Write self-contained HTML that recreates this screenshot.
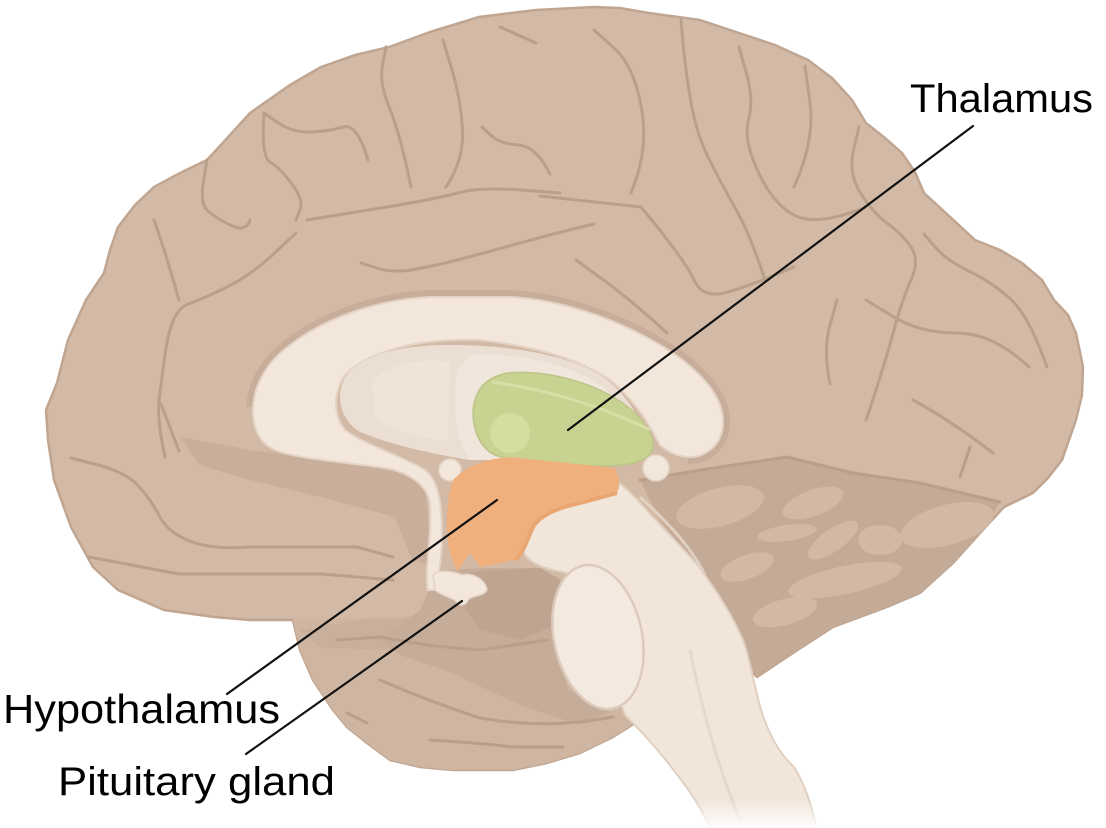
<!DOCTYPE html>
<html><head><meta charset="utf-8"><style>
html,body{margin:0;padding:0;background:#fff;}
svg{display:block;}
</style></head><body>
<svg width="1106" height="828" viewBox="0 0 1106 828" xmlns="http://www.w3.org/2000/svg">
<defs>
<linearGradient id="fade" x1="0" y1="0" x2="0" y2="1">
<stop offset="0" stop-color="#fff" stop-opacity="0"/>
<stop offset="1" stop-color="#fff" stop-opacity="0.95"/>
</linearGradient>
</defs>
<rect width="1106" height="828" fill="#fff"/>

<!-- brain silhouette -->
<path d="M594,7 L620,8 L649,13 L700,20 L739,33 L775,45 L808,60 L832,78 L852,100 L866,123 L885,138 L902,153 L915,172 L924,193 L948,215 L975,240 L1000,250 L1022,263 L1042,280 L1054,300 L1068,315 L1076,333 L1083,367 L1082,395 L1076,420 L1062,460 L1048,478 L1033,493 L1004,507 L980,533 L953,563 L920,593 L887,607 L833,627 L793,653 L757,677 L720,640 L660,720 L640,720 L613,737 L580,753 L547,763 L513,770 L453,770 L420,767 L390,760 L367,743 L347,727 L333,710 L313,680 L300,650 L293,620 L250,620 L214,617 L164,610 L118,590 L93,567 L71,527 L54,480 L48,440 L46,410 L57,383 L68,340 L86,300 L104,273 L110,250 L118,227 L135,205 L154,187 L180,173 L207,160 L230,135 L250,113 L290,85 L321,67 L355,55 L389,47 L430,32 L479,17 L536,10 Z" fill="#d3baa6" stroke="#c0a591" stroke-width="2.5" stroke-linejoin="round"/>

<!-- temporal lobe -->
<path d="M293,620 L360,618 L440,615 L520,625 L600,650 L650,690 L660,720 L640,720 L613,737 L580,753 L547,763 L513,770 L453,770 L420,767 L390,760 L367,743 L347,727 L333,710 L313,680 L300,650 Z" fill="#cfb6a2"/>
<path d="M300,630 L360,620 L440,617 L520,625 L560,640 L555,660 L480,655 L400,650 L320,648 Z" fill="#c9b09c"/>

<!-- cerebellum dark background -->
<path d="M640,480 L720,467 L787,457 L853,473 L920,483 L1000,502 L980,533 L953,563 L920,593 L887,607 L833,627 L793,653 L757,677 L720,610 L690,560 L660,520 Z" fill="#c4ab97"/>
<g fill="#d2b9a5">
<ellipse cx="720" cy="507" rx="45" ry="19" transform="rotate(-15 720 507)"/>
<ellipse cx="813" cy="503" rx="32" ry="13" transform="rotate(-20 813 503)"/>
<ellipse cx="787" cy="533" rx="30" ry="8" transform="rotate(-8 787 533)"/>
<ellipse cx="833" cy="540" rx="30" ry="11" transform="rotate(-35 833 540)"/>
<ellipse cx="880" cy="540" rx="22" ry="15"/>
<ellipse cx="947" cy="525" rx="48" ry="20" transform="rotate(-15 947 525)"/>
<ellipse cx="747" cy="567" rx="28" ry="12" transform="rotate(-20 747 567)"/>
<ellipse cx="845" cy="580" rx="58" ry="14" transform="rotate(-12 845 580)"/>
<ellipse cx="785" cy="612" rx="33" ry="13" transform="rotate(-15 785 612)"/>
</g>

<!-- darker band under rostrum -->
<path d="M180,437 L250,450 L330,460 L390,468 L425,483 L432,565 L412,560 L395,517 L321,497 L250,480 L200,465 Z" fill="#c9af9b"/>

<!-- shadow under hypothalamus / left of pons -->
<path d="M438,570 L480,568 L540,568 L562,580 L556,630 L568,690 L610,712 L580,725 L520,705 L450,672 L400,655 L380,640 L420,610 Z" fill="#c6ad99"/>
<path d="M470,572 L540,568 L560,580 L555,625 L520,640 L480,630 L462,605 Z" fill="#bfa591"/>

<!-- sulci -->
<g fill="none" stroke="#b9a08b" stroke-width="3" stroke-linecap="round" stroke-linejoin="round">
<path d="M264,113 L278.5,123 Q293,133 311.5,132 Q330,131 343.5,127 Q357,123 368,160"/>
<path d="M207,160 L203.5,181.5 Q200,203 207,210 Q214,217 230,225 Q246,233 250,220"/>
<path d="M296,220 L300,210 Q304,200 291.5,183.5 Q279,167 270,162 Q261,157 264,113"/>
<path d="M307,220 L350,213 L393,206 Q440,198 459.5,192.5 Q479,187 520,190 L560,193"/>
<path d="M296,233 L273,254.5 Q250,276 225,288 Q200,300 189.5,303.5 Q179,307 173.5,320 Q168,333 164.5,358 Q161,383 159,401.5 Q157,420 165,457"/>
<path d="M154,220 Q168,260 179,300"/>
<path d="M386,47 L382.5,65 Q379,83 389.5,108 Q400,133 411,187"/>
<path d="M443,40 L452,70 Q461,100 462.5,130 Q464,160 446,187"/>
<path d="M482,127 L491,135.5 Q500,144 518,145 Q536,146 550,174"/>
<path d="M500,27 L536,43"/>
<path d="M361,263 L377,268 Q393,273 411,270 Q429,267 457.5,260 L557,233 L594,224"/>
<path d="M540,196 L641,207 Q685,260 694,280 Q703,300 730,291.5 Q757,283 794,267"/>
<path d="M594,30 L614,48 Q634,66 641.5,108 Q649,150 631,193"/>
<path d="M681,20 L683,43 Q685,66 690.5,99.5 Q696,133 708.5,158 Q721,183 735.5,208.5 Q750,234 765,280"/>
<path d="M739,47 L746.5,73.5 Q754,100 748.5,120 Q743,140 759,173.5 Q775,207 797,216.5 Q819,226 866,207"/>
<path d="M805,66 L810,103 Q815,140 794,187"/>
<path d="M859,127 L853.5,150 Q848,173 860.5,193 Q873,213 887.5,223.5 Q902,234 911,247 Q920,260 911,280 Q902,300 893,333.5 Q884,367 866,420"/>
<path d="M924,234 L935,247 Q946,260 969.5,271.5 Q993,283 1011,299.5 Q1029,316 1047,367"/>
<path d="M866,300 L893,316.5 Q920,333 956.5,333 Q993,333 1029,367"/>
<path d="M576,260 L603.5,280 Q631,300 667,333"/>
<path d="M837,300 L830,325 Q823,350 830,384"/>
<path d="M913,400 Q950,420 993,453"/>
<path d="M970,447 L960,477"/>
<path d="M71,458 L98,465 Q125,472 137.5,485 Q150,498 159,515.5 Q168,533 191,541.5 Q214,550 250,547 L357,547 L393,557"/>
<path d="M161,404 L179,451"/>
<path d="M89,557 L179,574 L321,574 L393,580"/>
<path d="M337,640 L380,637 Q430,647 480,650 L547,640"/>
<path d="M380,680 Q430,702 480,718 Q547,730 613,717"/>
<path d="M430,740 Q470,742 513,747 L563,747"/>
<path d="M347,713 L367,723"/>
<path d="M640,480 L720,467 L787,457 L853,473 L920,483 L1000,502"/>
</g>

<!-- cingulate shadow around corpus callosum -->
<path d="M253,407 C255,380 270,360 290,345 C320,322 370,300 430,297 L510,297 C570,300 630,325 673,353 C700,372 722,395 723,420 C724,445 705,458 688,457" fill="none" stroke="#c8ae9a" stroke-width="14"/>

<!-- corpus callosum + fornix -->
<path d="M253,407 C255,380 270,360 290,345 C320,322 370,300 430,297 L510,297 C570,300 630,325 673,353 C700,372 722,395 723,420 C724,445 705,458 688,457 C675,456 665,450 660,445 C650,425 635,400 610,380 C580,360 540,347 480,340 C420,338 370,350 345,375 C333,392 333,415 345,430 C365,445 400,455 425,470 C438,480 442,500 442,540 C442,560 436,575 440,590 L428,590 C424,570 432,540 430,505 C428,485 410,474 390,469 C350,462 300,460 275,450 C258,443 252,425 253,407 Z" fill="#f3e7dc" stroke="#e3d4c6" stroke-width="2"/>

<!-- septum region -->
<path d="M345,378 C360,355 400,345 450,345 C520,345 580,358 610,382 C630,400 640,420 650,440 L600,460 L470,460 C440,455 400,448 360,432 C340,420 335,395 345,378 Z" fill="#ebdfd3"/>
<path d="M470,355 C520,352 570,365 600,385 C620,400 630,420 640,440 L560,460 L470,460 C455,440 452,400 458,370 Z" fill="#f1e6db"/>
<path d="M372,380 C390,362 430,358 450,362 L448,440 C420,440 390,430 375,415 Z" fill="#efe5da" opacity="0.7"/>

<!-- thalamus -->
<path d="M473,413 C474,390 485,378 507,373 C540,370 573,378 600,390 C625,402 645,418 653,440 C655,458 640,465 610,466 C570,467 520,463 495,455 C480,448 473,430 473,413 Z" fill="#c8d291" stroke="#bcc488" stroke-width="1.5"/>
<circle cx="510" cy="433" r="20" fill="#d5de9f"/>
<path d="M492,382 C540,388 600,405 650,430" fill="none" stroke="#d7dfa6" stroke-width="3"/>

<!-- small cream knobs -->
<circle cx="450" cy="470" r="11" fill="#f3e7dc" stroke="#e3d4c6" stroke-width="1.5"/>
<circle cx="656" cy="468" r="13" fill="#f3e7dc" stroke="#e3d4c6" stroke-width="1.5"/>

<!-- brainstem -->
<path d="M612,478 C625,486 638,500 649,513 C665,530 685,550 699,567 C712,585 730,610 743,640 C750,660 752,675 756,690 C762,720 775,750 794,767 C805,785 812,805 818,835 L725,860 C712,830 700,805 685,785 C670,765 655,745 625,715 L575,575 C555,570 535,568 525,555 C522,545 525,535 533,527 C545,512 580,500 612,478 Z" fill="#f2e6db" stroke="#e0d0c2" stroke-width="2"/>
<path d="M640,497 C665,520 690,545 705,575" fill="none" stroke="#e0d0c2" stroke-width="3"/>
<path d="M690,650 C700,700 715,760 740,820" fill="none" stroke="#e6d8cb" stroke-width="3"/>
<!-- pons -->
<ellipse cx="598" cy="637" rx="44" ry="73" transform="rotate(-12 598 637)" fill="#f4e9df" stroke="#dccbbd" stroke-width="2.5"/>

<!-- hypothalamus -->
<path d="M453,480 C470,462 500,455 520,458 L615,468 C620,478 620,488 617,493 L580,503 C560,507 540,515 533,527 C527,540 525,550 515,560 L480,567 L470,553 L457,572 L450,553 C445,530 446,500 453,480 Z" fill="#f0b07d"/>
<path d="M617,493 L580,503 C560,507 540,515 533,527 C527,540 525,550 515,560" fill="none" stroke="#e9a671" stroke-width="4"/>

<!-- pituitary -->
<path d="M433,575 C440,568 455,572 462,575 C470,572 485,578 487,590 C483,597 472,595 468,600 C466,606 458,607 456,601 C450,597 440,595 435,590 Z" fill="#f3e7dc" stroke="#e3d4c6" stroke-width="1.5"/>

<!-- bottom fade -->
<rect x="680" y="800" width="160" height="28" fill="url(#fade)"/>

<!-- leader lines -->
<g stroke="#111" stroke-width="2.2" stroke-linecap="round">
<line x1="973" y1="126" x2="568" y2="430"/>
<line x1="497" y1="500" x2="227" y2="694"/>
<line x1="462" y1="601" x2="246" y2="754"/>
</g>

<!-- labels -->
<g font-family="'Liberation Sans', sans-serif" fill="#000">
<text x="910" y="112" font-size="40" textLength="183" lengthAdjust="spacingAndGlyphs">Thalamus</text>
<text x="3" y="723" font-size="41" textLength="277" lengthAdjust="spacingAndGlyphs">Hypothalamus</text>
<text x="58" y="795" font-size="40" textLength="277" lengthAdjust="spacingAndGlyphs">Pituitary gland</text>
</g>
</svg>
</body></html>
